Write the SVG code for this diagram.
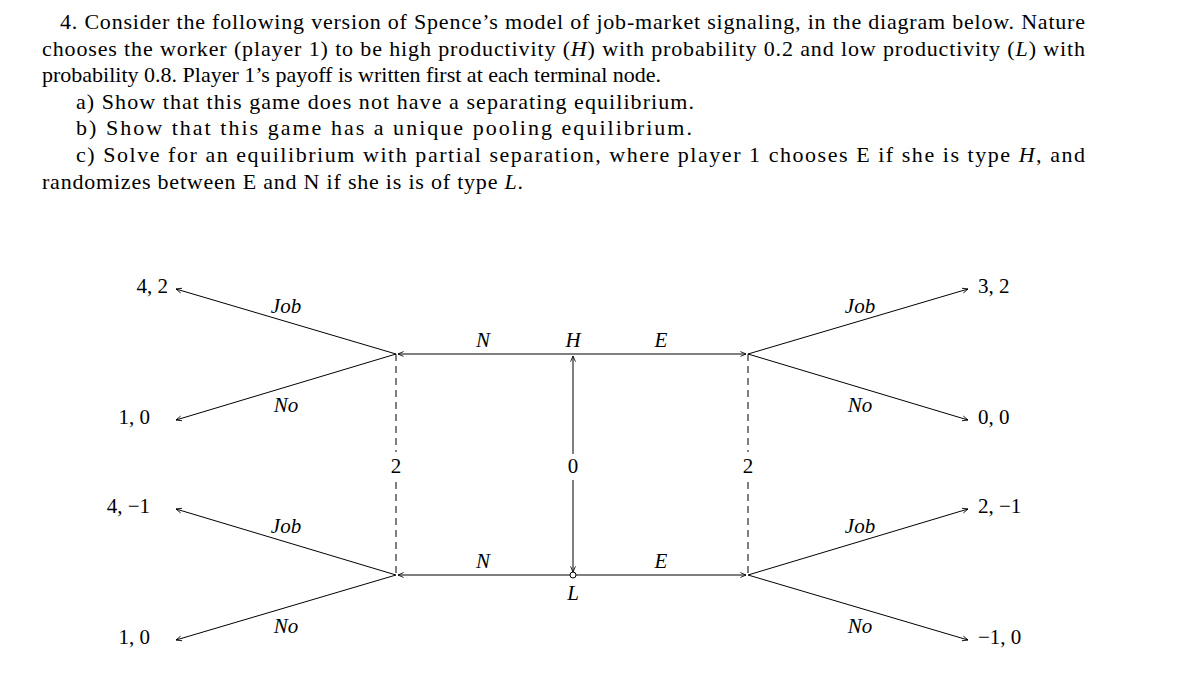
<svg xmlns="http://www.w3.org/2000/svg" width="1192" height="684" viewBox="0 0 1192 684">
<style>
text{font-family:"Liberation Serif","DejaVu Serif",serif;fill:#000}
.q{font-size:22px}
.p{font-size:21px}
.l{font-size:21px;font-style:italic}
.e{stroke:#000;stroke-width:1;fill:none;marker-end:url(#a)}
.d{stroke:#000;stroke-width:1;stroke-dasharray:7,5;fill:none}
</style>
<defs><marker id="a" viewBox="0 0 10 10" refX="9" refY="5" markerWidth="7" markerHeight="7" orient="auto"><path d="M1,1.5 L9,5 L1,8.5" fill="none" stroke="#000" stroke-width="1.2"/></marker></defs>
<g id="question" class="q">
<text x="60" y="29" textLength="1025" lengthAdjust="spacing">4. Consider the following version of Spence’s model of job-market signaling, in the diagram below. Nature</text>
<text x="42" y="56" textLength="1043" lengthAdjust="spacing">chooses the worker (player 1) to be high productivity (<tspan font-style="italic">H</tspan>) with probability 0.2 and low productivity (<tspan font-style="italic">L</tspan>) with</text>
<text x="42" y="82">probability 0.8. Player 1’s payoff is written first at each terminal node.</text>
<text x="76" y="109" textLength="618" lengthAdjust="spacing">a) Show that this game does not have a separating equilibrium.</text>
<text x="76" y="135" textLength="616" lengthAdjust="spacing">b) Show that this game has a unique pooling equilibrium.</text>
<text x="76" y="162" textLength="1009" lengthAdjust="spacing">c) Solve for an equilibrium with partial separation, where player 1 chooses E if she is type <tspan font-style="italic">H</tspan>, and</text>
<text x="42" y="189" textLength="481" lengthAdjust="spacing">randomizes between E and N if she is is of type <tspan font-style="italic">L</tspan>.</text>
</g>
<g id="connectors">
<line class="e" x1="573" y1="454" x2="573" y2="356"/>
<line class="e" x1="573" y1="480" x2="573" y2="572"/>
<line class="e" x1="573" y1="354" x2="398" y2="354"/>
<line class="e" x1="573" y1="354" x2="746" y2="354"/>
<line class="e" x1="573" y1="575" x2="398" y2="575"/>
<line class="e" x1="573" y1="575" x2="746" y2="575"/>
<line class="d" x1="396" y1="354" x2="396" y2="452"/>
<line class="d" x1="396" y1="482" x2="396" y2="575"/>
<line class="d" x1="748" y1="354" x2="748" y2="452"/>
<line class="d" x1="748" y1="482" x2="748" y2="575"/>
<line class="e" x1="396" y1="354" x2="176" y2="289"/>
<line class="e" x1="396" y1="354" x2="176" y2="420"/>
<line class="e" x1="396" y1="575" x2="176" y2="509"/>
<line class="e" x1="396" y1="575" x2="176" y2="640"/>
<line class="e" x1="748" y1="354" x2="968" y2="289"/>
<line class="e" x1="748" y1="354" x2="968" y2="420"/>
<line class="e" x1="748" y1="575" x2="968" y2="509"/>
<line class="e" x1="748" y1="575" x2="968" y2="640"/>
</g>
<g id="nature"><circle cx="573" cy="575" r="3" fill="#fff" stroke="#000"/><text class="p" x="573" y="473" text-anchor="middle">0</text><text class="l" x="573" y="347" text-anchor="middle">H</text><text class="l" x="573" y="600" text-anchor="middle">L</text></g>
<g id="p1labels" class="l" text-anchor="middle">
<text x="483" y="347">N</text><text x="661" y="347">E</text>
<text x="483" y="568">N</text><text x="661" y="568">E</text>
</g>
<g id="p2left"><text class="p" x="396" y="473" text-anchor="middle">2</text></g>
<g id="p2right"><text class="p" x="748" y="473" text-anchor="middle">2</text></g>
<g id="actions" class="l" text-anchor="middle">
<text x="286" y="313">Job</text><text x="286" y="412">No</text>
<text x="286" y="533">Job</text><text x="286" y="633">No</text>
<text x="860" y="313">Job</text><text x="860" y="412">No</text>
<text x="860" y="533">Job</text><text x="860" y="633">No</text>
</g>
<g id="payoffs" class="p">
<text x="168" y="293" text-anchor="end">4, 2</text>
<text x="150" y="424" text-anchor="end">1, 0</text>
<text x="150" y="513" text-anchor="end">4, −1</text>
<text x="150" y="644" text-anchor="end">1, 0</text>
<text x="978" y="293">3, 2</text>
<text x="978" y="424">0, 0</text>
<text x="978" y="513">2, −1</text>
<text x="978" y="644">−1, 0</text>
</g>
</svg>
